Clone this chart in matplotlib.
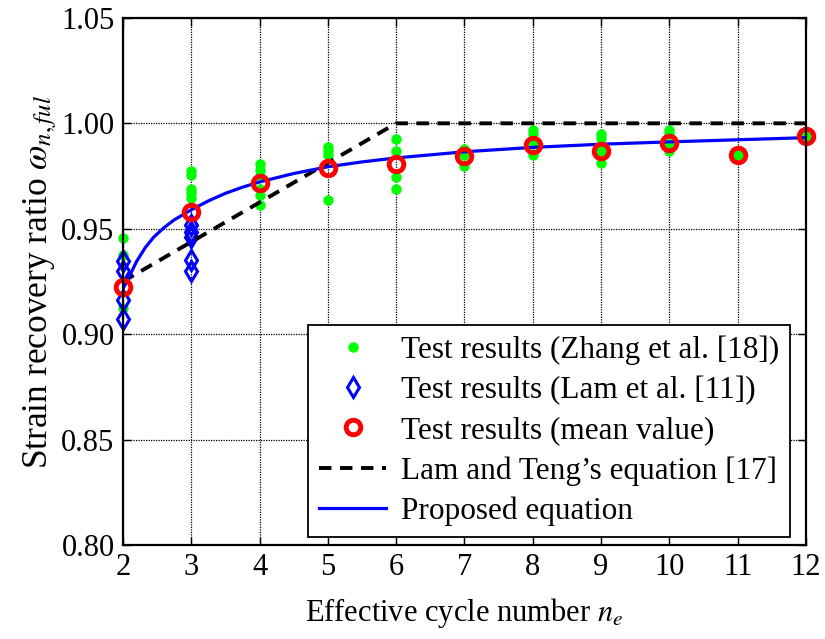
import matplotlib
matplotlib.use("Agg")
import matplotlib.pyplot as plt

plt.rcParams["font.family"] = ["Liberation Serif", "DejaVu Serif"]
plt.rcParams["mathtext.fontset"] = "stix"

# Test results (Zhang et al. [18])
zhang_x = [2, 2, 2,
           3, 3, 3, 3, 3,
           4, 4, 4, 4, 4, 4,
           5, 5, 5, 5,
           6, 6, 6, 6,
           7, 7, 7,
           8, 8, 8, 8,
           9, 9, 9, 9,
           10, 10, 10, 10,
           11, 12]
zhang_y = [0.9458, 0.9377, 0.9124,
           0.9774, 0.9755, 0.9690, 0.9670, 0.9646,
           0.9807, 0.9780, 0.9750, 0.9690, 0.9660, 0.9613,
           0.9890, 0.9870, 0.9850, 0.9637,
           0.9926, 0.9871, 0.9745, 0.9690,
           0.9877, 0.9850, 0.9800,
           0.9970, 0.9950, 0.9900, 0.9850,
           0.9950, 0.9930, 0.9870, 0.9810,
           0.9970, 0.9950, 0.9900, 0.9870,
           0.9848, 0.9939]

# Test results (Lam et al. [11])
lam_x = [2, 2, 2, 2, 3, 3, 3, 3, 3]
lam_y = [0.9348, 0.9300, 0.9164, 0.9070,
         0.9517, 0.9486, 0.9462, 0.9352, 0.9300]

# Mean values
mean_x = [2, 3, 4, 5, 6, 7, 8, 9, 10, 11, 12]
mean_y = [0.9223, 0.9578, 0.9718, 0.9788, 0.9808, 0.9843,
          0.9898, 0.9868, 0.9907, 0.9848, 0.9939]

# Lam and Teng's equation [17]
lt_x = [2, 6, 12]
lt_y = [0.925, 1.000, 1.000]

# Proposed equation
prop_x = [2.0, 2.08, 2.2, 2.33, 2.45, 2.6, 2.75, 3.0, 3.25, 3.5, 3.75,
          4.0, 4.5, 5.0, 5.5, 6.0, 7.0, 8.0, 9.0, 10.0, 11.0, 12.0]
prop_y = [0.9215, 0.9265, 0.9345, 0.9412, 0.9460, 0.9505, 0.9542, 0.9590,
          0.9632, 0.9668, 0.9697, 0.9722, 0.9762, 0.9794, 0.9817, 0.9836,
          0.9865, 0.9886, 0.9901, 0.9912, 0.9922, 0.9932]

fig = plt.figure(figsize=(8.25, 6.39), dpi=100)
ax = fig.add_axes([0.149, 0.147, 0.828, 0.825])

ax.plot(zhang_x, zhang_y, linestyle="none", marker="o", markersize=6.5,
        color="#00ff00", markeredgecolor="#00ff00", clip_on=False,
        label="Test results (Zhang et al. [18])", zorder=3)
ax.plot(lam_x, lam_y, linestyle="none", marker="d", markersize=10,
        markerfacecolor="none", markeredgecolor="#0000ff", markeredgewidth=2.2,
        clip_on=False, label="Test results (Lam et al. [11])", zorder=4)
ax.plot(mean_x, mean_y, linestyle="none", marker="o", markersize=10.5,
        markerfacecolor="none", markeredgecolor="#ff0000", markeredgewidth=3.5,
        clip_on=False, label="Test results (mean value)", zorder=7)
ax.plot(lt_x, lt_y, color="black", linestyle=(0, (3.2, 2.2)), linewidth=2.8,
        label="Lam and Teng\u2019s equation [17]", zorder=5)
ax.plot(prop_x, prop_y, color="#0000ff", linewidth=2.3,
        label="Proposed equation", zorder=6)

ax.set_xlim(2, 12)
ax.set_ylim(0.80, 1.05)
ax.set_xticks(range(2, 13))
ax.set_yticks([0.80, 0.85, 0.90, 0.95, 1.00, 1.05])
ax.set_yticklabels(["0.80", "0.85", "0.90", "0.95", "1.00", "1.05"])
ax.tick_params(direction="in", top=True, right=True, length=6, width=1,
               labelsize=22, pad=6)
ax.grid(True, color="black", linestyle=(0, (1, 1)), linewidth=0.9)
for s in ax.spines.values():
    s.set_linewidth(1.6)
    s.set_zorder(8)

ax.set_xlabel("Effective cycle number $n_e$", fontsize=22, labelpad=10)
ax.set_ylabel("Strain recovery ratio $\\omega_{n,ful}$", fontsize=25.5,
              labelpad=2)

leg = ax.legend(loc="lower right", bbox_to_anchor=(0.977, 0.015),
                fontsize=22.5, handlelength=2.15, labelspacing=0.35,
                borderpad=0.35, borderaxespad=0, handletextpad=0.48,
                fancybox=False, framealpha=1, edgecolor="black")
leg.get_frame().set_linewidth(1.3)
leg.set_zorder(9)

fig.savefig("out.png", dpi=100)
